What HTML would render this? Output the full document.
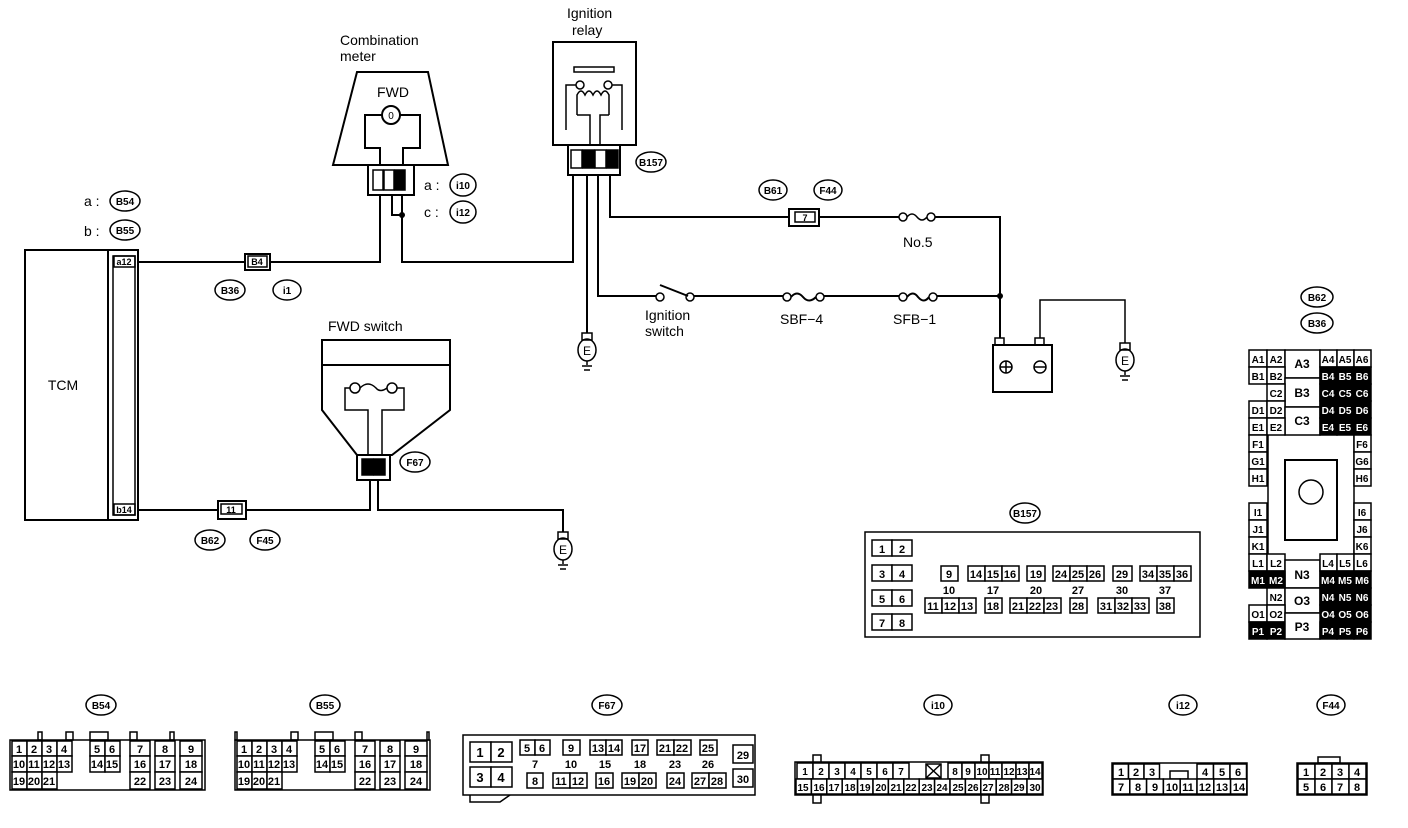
<!DOCTYPE html>
<html><head><meta charset="utf-8"><style>
html,body{margin:0;padding:0;background:#fff;}
svg{display:block;}
text{font-family:"Liberation Sans",sans-serif;fill:#000;}
.l{font-size:14px;}
.o{font-size:10px;font-weight:bold;}
.c{font-size:11px;font-weight:bold;}
.w{fill:none;stroke:#000;stroke-width:2;}
.t{fill:none;stroke:#000;stroke-width:1.5;}
.cell{fill:#fff;stroke:#000;stroke-width:1.5;}
.dk{fill:#000;stroke:#000;stroke-width:1.5;}
.wt{fill:#fff;}
</style></head><body>
<svg width="1408" height="828" viewBox="0 0 1408 828" xmlns="http://www.w3.org/2000/svg">
<defs>
<g id="gnd">
<rect x="-5" y="0" width="10" height="7" class="t"/>
<ellipse cx="0" cy="17" rx="9" ry="11" class="t"/>
<text x="0" y="22" text-anchor="middle" style="font-size:12px">E</text>
<line x1="0" y1="28" x2="0" y2="32" class="t"/>
<line x1="-5" y1="33" x2="5" y2="33" class="t"/>
<line x1="-3" y1="37" x2="3" y2="37" class="t"/>
</g>
</defs>

<!-- TCM -->
<rect x="25" y="250" width="83" height="270" class="w"/>
<rect x="108" y="250" width="30" height="270" class="w"/>
<rect x="113" y="256" width="22" height="259" class="t"/>
<rect x="114" y="256" width="21" height="11" class="t"/><text x="124" y="265" class="c" text-anchor="middle" style="font-size:9px">a12</text>
<rect x="114" y="504" width="21" height="11" class="t"/><text x="124" y="513" class="c" text-anchor="middle" style="font-size:9px">b14</text>
<text x="63" y="390" class="l" text-anchor="middle">TCM</text>
<text x="84" y="206" class="l">a :</text><ellipse cx="125" cy="201" rx="15" ry="10" class="t"/><text x="125" y="205" class="o" text-anchor="middle">B54</text>
<text x="84" y="236" class="l">b :</text><ellipse cx="125" cy="230" rx="15" ry="10" class="t"/><text x="125" y="234" class="o" text-anchor="middle">B55</text>

<!-- wire TCM a12 to meter -->
<polyline points="138,262 245,262" class="w"/>
<rect x="245" y="254" width="25" height="16" class="w"/><rect x="248" y="256" width="19" height="11" class="t"/><text x="257" y="265" class="c" text-anchor="middle" style="font-size:9px">B4</text>
<polyline points="270,262 380,262 380,195" class="w"/>
<ellipse cx="230" cy="290" rx="15" ry="10" class="t"/><text x="230" y="294" class="o" text-anchor="middle">B36</text>
<ellipse cx="287" cy="290" rx="14" ry="10" class="t"/><text x="287" y="294" class="o" text-anchor="middle">i1</text>

<!-- Combination meter -->
<text x="340" y="45" class="l">Combination</text>
<text x="340" y="61" class="l">meter</text>
<polygon points="357,72 428,72 448,165 333,165" class="w"/>
<text x="393" y="97" class="l" text-anchor="middle">FWD</text>
<circle cx="391" cy="115" r="9" class="w"/><text x="391" y="119" style="font-size:10px" text-anchor="middle">0</text>
<polyline points="382,115 365,115 365,148 380,148 380,165" class="w"/>
<polyline points="400,115 420,115 420,148 403,148 403,165" class="w"/>
<rect x="368" y="165" width="46" height="30" class="w"/>
<rect x="373" y="170" width="10" height="20" class="t"/><rect x="384" y="170" width="10" height="20" class="t"/><rect x="395" y="170" width="10" height="20" class="dk"/>
<polyline points="392,195 392,215 402,215" class="w"/>
<polyline points="402,195 402,262 573,262 573,175" class="w"/>
<circle cx="402" cy="215" r="3"/>
<text x="424" y="190" class="l">a :</text><ellipse cx="463" cy="185" rx="13" ry="11" class="t"/><text x="463" y="189" class="o" text-anchor="middle">i10</text>
<text x="424" y="217" class="l">c :</text><ellipse cx="463" cy="212" rx="13" ry="11" class="t"/><text x="463" y="216" class="o" text-anchor="middle">i12</text>

<!-- Ignition relay -->
<text x="567" y="18" class="l">Ignition</text>
<text x="572" y="35" class="l">relay</text>
<rect x="553" y="42" width="83" height="103" class="w"/>
<rect x="574" y="67" width="40" height="5" class="t"/>
<circle cx="580" cy="85" r="4" class="t"/><circle cx="608" cy="85" r="4" class="t"/>
<polyline points="576,85 566,85 566,130" class="t"/><polyline points="612,85 622,85 622,130" class="t"/>
<path d="M577,115 V95 q4,-8 8,0 q4,-8 8,0 q4,-8 8,0 q4,-8 8,0 V115" class="t"/>
<polyline points="577,115 590,115 590,145" class="t"/><polyline points="609,115 600,115 600,145" class="t"/>
<rect x="568" y="145" width="52" height="30" class="w"/>
<rect x="571" y="150" width="11" height="18" class="t"/><rect x="583" y="150" width="11" height="18" class="dk"/><rect x="595" y="150" width="11" height="18" class="t"/><rect x="607" y="150" width="11" height="18" class="dk"/>
<ellipse cx="651" cy="162" rx="15" ry="10" class="t"/><text x="651" y="166" class="o" text-anchor="middle">B157</text>

<line x1="587" y1="175" x2="587" y2="333" class="w"/>
<use href="#gnd" x="587" y="333"/>
<polyline points="598,175 598,296 656,296" class="w"/>
<polyline points="610,175 610,217 790,217" class="w"/>

<!-- B61/F44 conn -->
<ellipse cx="773" cy="190" rx="14" ry="10" class="t"/><text x="773" y="194" class="o" text-anchor="middle">B61</text>
<ellipse cx="828" cy="190" rx="14" ry="10" class="t"/><text x="828" y="194" class="o" text-anchor="middle">F44</text>
<rect x="789" y="209" width="30" height="17" class="w"/><rect x="795" y="212" width="20" height="10" class="t"/><text x="805" y="221" class="c" text-anchor="middle" style="font-size:9px">7</text>
<line x1="819" y1="217" x2="899" y2="217" class="w"/>
<circle cx="903" cy="217" r="4" class="t"/><circle cx="931" cy="217" r="4" class="t"/><path d="M907,217 q5,-6 10,0 q5,6 10,0" class="t"/>
<polyline points="935,217 1000,217 1000,338" class="w"/>
<text x="903" y="247" class="l">No.5</text>

<!-- ignition switch line -->
<circle cx="660" cy="297" r="4" class="t"/><circle cx="690" cy="297" r="4" class="t"/>
<line x1="660" y1="285" x2="688" y2="296" class="w"/>
<text x="645" y="320" class="l">Ignition</text><text x="645" y="336" class="l">switch</text>
<line x1="694" y1="296" x2="783" y2="296" class="w"/>
<circle cx="787" cy="297" r="4" class="t"/><circle cx="820" cy="297" r="4" class="t"/><path d="M791,297 q6,-7 12,0 q6,7 13,0" class="w"/>
<text x="780" y="324" class="l">SBF−4</text>
<line x1="824" y1="296" x2="899" y2="296" class="w"/>
<circle cx="903" cy="297" r="4" class="t"/><circle cx="933" cy="297" r="4" class="t"/><path d="M907,297 q6,-7 11,0 q6,7 11,0" class="w"/>
<text x="893" y="324" class="l">SFB−1</text>
<line x1="937" y1="296" x2="1000" y2="296" class="w"/>
<circle cx="1000" cy="296" r="3"/>

<!-- battery -->
<rect x="993" y="345" width="59" height="47" class="w"/>
<rect x="995" y="338" width="9" height="7" class="t"/><rect x="1035" y="338" width="9" height="7" class="t"/>
<circle cx="1006" cy="367" r="6" class="t"/><line x1="1000" y1="367" x2="1012" y2="367" class="t"/><line x1="1006" y1="361" x2="1006" y2="373" class="t"/>
<circle cx="1040" cy="367" r="6" class="t"/><line x1="1034" y1="367" x2="1046" y2="367" class="t"/>
<polyline points="1040,338 1040,300 1125,300 1125,343" class="t"/>
<use href="#gnd" x="1125" y="343"/>

<!-- FWD switch -->
<text x="328" y="331" class="l">FWD switch</text>
<rect x="322" y="340" width="128" height="25" class="w"/>
<polyline points="322,365 322,410 357,455 392,455 450,410 450,365" class="w"/>
<circle cx="355" cy="388" r="5" class="t"/><circle cx="392" cy="388" r="5" class="t"/><path d="M360,388 q8,-8 16,0 q4,5 11,0" class="t"/>
<polyline points="350,388 345,388 345,410 368,410 368,455" class="t"/>
<polyline points="397,388 404,388 404,410 382,410 382,455" class="t"/>
<rect x="357" y="455" width="33" height="25" class="w"/>
<rect x="362" y="459" width="11" height="16" class="dk"/><rect x="374" y="459" width="11" height="16" class="dk"/>
<ellipse cx="415" cy="462" rx="15" ry="10" class="t"/><text x="415" y="466" class="o" text-anchor="middle">F67</text>
<polyline points="370,480 370,510 246,510" class="w"/>
<polyline points="378,480 378,510 563,510 563,532" class="w"/>
<use href="#gnd" x="563" y="532"/>
<rect x="218" y="501" width="28" height="18" class="w"/><rect x="221" y="504" width="21" height="10" class="t"/><text x="231" y="513" class="c" text-anchor="middle" style="font-size:9px">11</text>
<line x1="138" y1="510" x2="218" y2="510" class="w"/>
<ellipse cx="210" cy="540" rx="15" ry="10" class="t"/><text x="210" y="544" class="o" text-anchor="middle">B62</text>
<ellipse cx="265" cy="540" rx="15" ry="10" class="t"/><text x="265" y="544" class="o" text-anchor="middle">F45</text>

<!-- B157 panel -->
<ellipse cx="1025" cy="513" rx="15" ry="10" class="t"/><text x="1025" y="517" class="o" text-anchor="middle">B157</text>
<rect x="865" y="532" width="335" height="105" class="t"/>
<g class="c" text-anchor="middle">
<rect x="872" y="540" width="20" height="16" class="cell"/><rect x="892" y="540" width="20" height="16" class="cell"/><text x="882" y="553">1</text><text x="902" y="553">2</text>
<rect x="872" y="565" width="20" height="16" class="cell"/><rect x="892" y="565" width="20" height="16" class="cell"/><text x="882" y="578">3</text><text x="902" y="578">4</text>
<rect x="872" y="590" width="20" height="16" class="cell"/><rect x="892" y="590" width="20" height="16" class="cell"/><text x="882" y="603">5</text><text x="902" y="603">6</text>
<rect x="872" y="614" width="20" height="16" class="cell"/><rect x="892" y="614" width="20" height="16" class="cell"/><text x="882" y="627">7</text><text x="902" y="627">8</text>
<rect x="941" y="566" width="17" height="15" class="cell"/><text x="949" y="578">9</text>
<text x="949" y="594">10</text>
<rect x="925" y="598" width="17" height="15" class="cell"/><rect x="942" y="598" width="17" height="15" class="cell"/><rect x="959" y="598" width="17" height="15" class="cell"/><text x="933" y="610">11</text><text x="950" y="610">12</text><text x="967" y="610">13</text>
<rect x="968" y="566" width="17" height="15" class="cell"/><rect x="985" y="566" width="17" height="15" class="cell"/><rect x="1002" y="566" width="17" height="15" class="cell"/><text x="976" y="578">14</text><text x="993" y="578">15</text><text x="1010" y="578">16</text>
<text x="993" y="594">17</text>
<rect x="985" y="598" width="17" height="15" class="cell"/><text x="993" y="610">18</text>
<rect x="1027" y="566" width="18" height="15" class="cell"/><text x="1036" y="578">19</text>
<text x="1036" y="594">20</text>
<rect x="1010" y="598" width="17" height="15" class="cell"/><rect x="1027" y="598" width="17" height="15" class="cell"/><rect x="1044" y="598" width="17" height="15" class="cell"/><text x="1018" y="610">21</text><text x="1035" y="610">22</text><text x="1052" y="610">23</text>
<rect x="1053" y="566" width="17" height="15" class="cell"/><rect x="1070" y="566" width="17" height="15" class="cell"/><rect x="1087" y="566" width="17" height="15" class="cell"/><text x="1061" y="578">24</text><text x="1078" y="578">25</text><text x="1095" y="578">26</text>
<text x="1078" y="594">27</text>
<rect x="1070" y="598" width="17" height="15" class="cell"/><text x="1078" y="610">28</text>
<rect x="1113" y="566" width="19" height="15" class="cell"/><text x="1122" y="578">29</text>
<text x="1122" y="594">30</text>
<rect x="1098" y="598" width="17" height="15" class="cell"/><rect x="1115" y="598" width="17" height="15" class="cell"/><rect x="1132" y="598" width="17" height="15" class="cell"/><text x="1106" y="610">31</text><text x="1123" y="610">32</text><text x="1140" y="610">33</text>
<rect x="1140" y="566" width="17" height="15" class="cell"/><rect x="1157" y="566" width="17" height="15" class="cell"/><rect x="1174" y="566" width="17" height="15" class="cell"/><text x="1148" y="578">34</text><text x="1165" y="578">35</text><text x="1182" y="578">36</text>
<text x="1165" y="594">37</text>
<rect x="1157" y="598" width="17" height="15" class="cell"/><text x="1165" y="610">38</text>
</g>

<!-- B62/B36 block -->
<ellipse cx="1317" cy="297" rx="16" ry="10" class="t"/><text x="1317" y="301" class="o" text-anchor="middle">B62</text>
<ellipse cx="1317" cy="323" rx="16" ry="10" class="t"/><text x="1317" y="327" class="o" text-anchor="middle">B36</text>
<rect x="1285" y="460" width="52" height="80" class="w"/>
<circle cx="1311" cy="492" r="12" class="t"/>
<polyline points="1268,435 1268,554" class="t"/><polyline points="1354,435 1354,554" class="t"/>
<g class="c" text-anchor="middle" style="font-size:10px">
<rect x="1249" y="350" width="18" height="17" class="cell"/><text x="1258" y="363">A1</text>
<rect x="1267" y="350" width="18" height="17" class="cell"/><text x="1276" y="363">A2</text>
<rect x="1285" y="350" width="35" height="28" class="cell"/><text x="1302" y="368" style="font-size:12px">A3</text>
<rect x="1320" y="350" width="17" height="17" class="cell"/><text x="1328" y="363">A4</text>
<rect x="1337" y="350" width="17" height="17" class="cell"/><text x="1345" y="363">A5</text>
<rect x="1354" y="350" width="17" height="17" class="cell"/><text x="1362" y="363">A6</text>
<rect x="1249" y="367" width="18" height="17" class="cell"/><text x="1258" y="380">B1</text>
<rect x="1267" y="367" width="18" height="17" class="cell"/><text x="1276" y="380">B2</text>
<rect x="1285" y="378" width="35" height="29" class="cell"/><text x="1302" y="397" style="font-size:12px">B3</text>
<rect x="1320" y="367" width="17" height="17" class="dk"/><text x="1328" y="380" class="wt">B4</text>
<rect x="1337" y="367" width="17" height="17" class="dk"/><text x="1345" y="380" class="wt">B5</text>
<rect x="1354" y="367" width="17" height="17" class="dk"/><text x="1362" y="380" class="wt">B6</text>
<rect x="1267" y="384" width="18" height="17" class="cell"/><text x="1276" y="397">C2</text>
<rect x="1320" y="384" width="17" height="17" class="dk"/><text x="1328" y="397" class="wt">C4</text>
<rect x="1337" y="384" width="17" height="17" class="dk"/><text x="1345" y="397" class="wt">C5</text>
<rect x="1354" y="384" width="17" height="17" class="dk"/><text x="1362" y="397" class="wt">C6</text>
<rect x="1249" y="401" width="18" height="17" class="cell"/><text x="1258" y="414">D1</text>
<rect x="1267" y="401" width="18" height="17" class="cell"/><text x="1276" y="414">D2</text>
<rect x="1285" y="407" width="35" height="28" class="cell"/><text x="1302" y="425" style="font-size:12px">C3</text>
<rect x="1320" y="401" width="17" height="17" class="dk"/><text x="1328" y="414" class="wt">D4</text>
<rect x="1337" y="401" width="17" height="17" class="dk"/><text x="1345" y="414" class="wt">D5</text>
<rect x="1354" y="401" width="17" height="17" class="dk"/><text x="1362" y="414" class="wt">D6</text>
<rect x="1249" y="418" width="18" height="17" class="cell"/><text x="1258" y="431">E1</text>
<rect x="1267" y="418" width="18" height="17" class="cell"/><text x="1276" y="431">E2</text>
<rect x="1320" y="418" width="17" height="17" class="dk"/><text x="1328" y="431" class="wt">E4</text>
<rect x="1337" y="418" width="17" height="17" class="dk"/><text x="1345" y="431" class="wt">E5</text>
<rect x="1354" y="418" width="17" height="17" class="dk"/><text x="1362" y="431" class="wt">E6</text>
<rect x="1249" y="435" width="18" height="17" class="cell"/><text x="1258" y="448">F1</text>
<rect x="1354" y="435" width="17" height="17" class="cell"/><text x="1362" y="448">F6</text>
<rect x="1249" y="452" width="18" height="17" class="cell"/><text x="1258" y="465">G1</text>
<rect x="1354" y="452" width="17" height="17" class="cell"/><text x="1362" y="465">G6</text>
<rect x="1249" y="469" width="18" height="17" class="cell"/><text x="1258" y="482">H1</text>
<rect x="1354" y="469" width="17" height="17" class="cell"/><text x="1362" y="482">H6</text>
<rect x="1249" y="503" width="18" height="17" class="cell"/><text x="1258" y="516">I1</text>
<rect x="1354" y="503" width="17" height="17" class="cell"/><text x="1362" y="516">I6</text>
<rect x="1249" y="520" width="18" height="17" class="cell"/><text x="1258" y="533">J1</text>
<rect x="1354" y="520" width="17" height="17" class="cell"/><text x="1362" y="533">J6</text>
<rect x="1249" y="537" width="18" height="17" class="cell"/><text x="1258" y="550">K1</text>
<rect x="1354" y="537" width="17" height="17" class="cell"/><text x="1362" y="550">K6</text>
<rect x="1249" y="554" width="18" height="17" class="cell"/><text x="1258" y="567">L1</text>
<rect x="1267" y="554" width="18" height="17" class="cell"/><text x="1276" y="567">L2</text>
<rect x="1285" y="560" width="35" height="28" class="cell"/><text x="1302" y="579" style="font-size:12px">N3</text>
<rect x="1320" y="554" width="17" height="17" class="cell"/><text x="1328" y="567">L4</text>
<rect x="1337" y="554" width="17" height="17" class="cell"/><text x="1345" y="567">L5</text>
<rect x="1354" y="554" width="17" height="17" class="cell"/><text x="1362" y="567">L6</text>
<rect x="1249" y="571" width="18" height="17" class="dk"/><text x="1258" y="584" class="wt">M1</text>
<rect x="1267" y="571" width="18" height="17" class="dk"/><text x="1276" y="584" class="wt">M2</text>
<rect x="1320" y="571" width="17" height="17" class="dk"/><text x="1328" y="584" class="wt">M4</text>
<rect x="1337" y="571" width="17" height="17" class="dk"/><text x="1345" y="584" class="wt">M5</text>
<rect x="1354" y="571" width="17" height="17" class="dk"/><text x="1362" y="584" class="wt">M6</text>
<rect x="1267" y="588" width="18" height="17" class="cell"/><text x="1276" y="601">N2</text>
<rect x="1285" y="588" width="35" height="25" class="cell"/><text x="1302" y="605" style="font-size:12px">O3</text>
<rect x="1320" y="588" width="17" height="17" class="dk"/><text x="1328" y="601" class="wt">N4</text>
<rect x="1337" y="588" width="17" height="17" class="dk"/><text x="1345" y="601" class="wt">N5</text>
<rect x="1354" y="588" width="17" height="17" class="dk"/><text x="1362" y="601" class="wt">N6</text>
<rect x="1249" y="605" width="18" height="17" class="cell"/><text x="1258" y="618">O1</text>
<rect x="1267" y="605" width="18" height="17" class="cell"/><text x="1276" y="618">O2</text>
<rect x="1320" y="605" width="17" height="17" class="dk"/><text x="1328" y="618" class="wt">O4</text>
<rect x="1337" y="605" width="17" height="17" class="dk"/><text x="1345" y="618" class="wt">O5</text>
<rect x="1354" y="605" width="17" height="17" class="dk"/><text x="1362" y="618" class="wt">O6</text>
<rect x="1249" y="622" width="18" height="17" class="dk"/><text x="1258" y="635" class="wt">P1</text>
<rect x="1267" y="622" width="18" height="17" class="dk"/><text x="1276" y="635" class="wt">P2</text>
<rect x="1285" y="613" width="35" height="26" class="cell"/><text x="1302" y="631" style="font-size:12px">P3</text>
<rect x="1320" y="622" width="17" height="17" class="dk"/><text x="1328" y="635" class="wt">P4</text>
<rect x="1337" y="622" width="17" height="17" class="dk"/><text x="1345" y="635" class="wt">P5</text>
<rect x="1354" y="622" width="17" height="17" class="dk"/><text x="1362" y="635" class="wt">P6</text>
</g>

<!-- bottom connectors labels -->
<ellipse cx="101" cy="705" rx="15" ry="10" class="t"/><text x="101" y="709" class="o" text-anchor="middle">B54</text>
<ellipse cx="325" cy="705" rx="15" ry="10" class="t"/><text x="325" y="709" class="o" text-anchor="middle">B55</text>
<ellipse cx="607" cy="705" rx="15" ry="10" class="t"/><text x="607" y="709" class="o" text-anchor="middle">F67</text>
<ellipse cx="938" cy="705" rx="14" ry="10" class="t"/><text x="938" y="709" class="o" text-anchor="middle">i10</text>
<ellipse cx="1183" cy="705" rx="14" ry="10" class="t"/><text x="1183" y="709" class="o" text-anchor="middle">i12</text>
<ellipse cx="1331" cy="705" rx="14" ry="10" class="t"/><text x="1331" y="709" class="o" text-anchor="middle">F44</text>

<!-- B54 -->
<g class="c" text-anchor="middle">
<rect x="10" y="740" width="195" height="50" class="t"/>
<rect x="38" y="732" width="4" height="8" class="t"/><rect x="66" y="732" width="7" height="8" class="t"/><rect x="90" y="732" width="18" height="8" class="t"/><rect x="130" y="732" width="7" height="8" class="t"/><rect x="170" y="732" width="4" height="8" class="t"/>
<rect x="12" y="741" width="15" height="15" class="cell"/><text x="19" y="753">1</text>
<rect x="27" y="741" width="15" height="15" class="cell"/><text x="34" y="753">2</text>
<rect x="42" y="741" width="15" height="15" class="cell"/><text x="49" y="753">3</text>
<rect x="57" y="741" width="15" height="15" class="cell"/><text x="64" y="753">4</text>
<rect x="90" y="741" width="15" height="15" class="cell"/><text x="97" y="753">5</text>
<rect x="105" y="741" width="15" height="15" class="cell"/><text x="112" y="753">6</text>
<rect x="130" y="741" width="20" height="15" class="cell"/><text x="140" y="753">7</text>
<rect x="155" y="741" width="20" height="15" class="cell"/><text x="165" y="753">8</text>
<rect x="180" y="741" width="22" height="15" class="cell"/><text x="191" y="753">9</text>
<rect x="12" y="756" width="15" height="16" class="cell"/><text x="19" y="768">10</text>
<rect x="27" y="756" width="15" height="16" class="cell"/><text x="34" y="768">11</text>
<rect x="42" y="756" width="15" height="16" class="cell"/><text x="49" y="768">12</text>
<rect x="57" y="756" width="15" height="16" class="cell"/><text x="64" y="768">13</text>
<rect x="90" y="756" width="15" height="16" class="cell"/><text x="97" y="768">14</text>
<rect x="105" y="756" width="15" height="16" class="cell"/><text x="112" y="768">15</text>
<rect x="130" y="756" width="20" height="16" class="cell"/><text x="140" y="768">16</text>
<rect x="155" y="756" width="20" height="16" class="cell"/><text x="165" y="768">17</text>
<rect x="180" y="756" width="22" height="16" class="cell"/><text x="191" y="768">18</text>
<rect x="12" y="772" width="15" height="17" class="cell"/><text x="19" y="785">19</text>
<rect x="27" y="772" width="15" height="17" class="cell"/><text x="34" y="785">20</text>
<rect x="42" y="772" width="15" height="17" class="cell"/><text x="49" y="785">21</text>
<rect x="130" y="772" width="20" height="17" class="cell"/><text x="140" y="785">22</text>
<rect x="155" y="772" width="20" height="17" class="cell"/><text x="165" y="785">23</text>
<rect x="180" y="772" width="22" height="17" class="cell"/><text x="191" y="785">24</text>
</g>
<!-- B55 -->
<g class="c" text-anchor="middle" transform="translate(225,0)">
<rect x="10" y="740" width="195" height="50" class="t"/>
<rect x="10" y="732" width="2" height="8" class="t"/><rect x="66" y="732" width="7" height="8" class="t"/><rect x="90" y="732" width="18" height="8" class="t"/><rect x="130" y="732" width="7" height="8" class="t"/><rect x="202" y="732" width="2" height="8" class="t"/>
<rect x="12" y="741" width="15" height="15" class="cell"/><text x="19" y="753">1</text>
<rect x="27" y="741" width="15" height="15" class="cell"/><text x="34" y="753">2</text>
<rect x="42" y="741" width="15" height="15" class="cell"/><text x="49" y="753">3</text>
<rect x="57" y="741" width="15" height="15" class="cell"/><text x="64" y="753">4</text>
<rect x="90" y="741" width="15" height="15" class="cell"/><text x="97" y="753">5</text>
<rect x="105" y="741" width="15" height="15" class="cell"/><text x="112" y="753">6</text>
<rect x="130" y="741" width="20" height="15" class="cell"/><text x="140" y="753">7</text>
<rect x="155" y="741" width="20" height="15" class="cell"/><text x="165" y="753">8</text>
<rect x="180" y="741" width="22" height="15" class="cell"/><text x="191" y="753">9</text>
<rect x="12" y="756" width="15" height="16" class="cell"/><text x="19" y="768">10</text>
<rect x="27" y="756" width="15" height="16" class="cell"/><text x="34" y="768">11</text>
<rect x="42" y="756" width="15" height="16" class="cell"/><text x="49" y="768">12</text>
<rect x="57" y="756" width="15" height="16" class="cell"/><text x="64" y="768">13</text>
<rect x="90" y="756" width="15" height="16" class="cell"/><text x="97" y="768">14</text>
<rect x="105" y="756" width="15" height="16" class="cell"/><text x="112" y="768">15</text>
<rect x="130" y="756" width="20" height="16" class="cell"/><text x="140" y="768">16</text>
<rect x="155" y="756" width="20" height="16" class="cell"/><text x="165" y="768">17</text>
<rect x="180" y="756" width="22" height="16" class="cell"/><text x="191" y="768">18</text>
<rect x="12" y="772" width="15" height="17" class="cell"/><text x="19" y="785">19</text>
<rect x="27" y="772" width="15" height="17" class="cell"/><text x="34" y="785">20</text>
<rect x="42" y="772" width="15" height="17" class="cell"/><text x="49" y="785">21</text>
<rect x="130" y="772" width="20" height="17" class="cell"/><text x="140" y="785">22</text>
<rect x="155" y="772" width="20" height="17" class="cell"/><text x="165" y="785">23</text>
<rect x="180" y="772" width="22" height="17" class="cell"/><text x="191" y="785">24</text>
</g>

<!-- F67 -->
<g class="c" text-anchor="middle">
<rect x="463" y="735" width="292" height="60" class="t"/>
<polyline points="470,795 470,802 500,802 510,795" class="t"/>
<rect x="470" y="742" width="21" height="20" class="cell"/><rect x="491" y="742" width="21" height="20" class="cell"/><text x="480" y="757" style="font-size:13px">1</text><text x="501" y="757" style="font-size:13px">2</text>
<rect x="470" y="767" width="21" height="20" class="cell"/><rect x="491" y="767" width="21" height="20" class="cell"/><text x="480" y="782" style="font-size:13px">3</text><text x="501" y="782" style="font-size:13px">4</text>
<rect x="520" y="740" width="15" height="15" class="cell"/><rect x="535" y="740" width="15" height="15" class="cell"/><text x="527" y="752">5</text><text x="542" y="752">6</text>
<text x="535" y="768">7</text>
<rect x="527" y="773" width="16" height="15" class="cell"/><text x="535" y="785">8</text>
<rect x="563" y="740" width="17" height="15" class="cell"/><text x="571" y="752">9</text>
<text x="571" y="768">10</text>
<rect x="553" y="773" width="17" height="15" class="cell"/><rect x="570" y="773" width="17" height="15" class="cell"/><text x="561" y="785">11</text><text x="578" y="785">12</text>
<rect x="590" y="740" width="16" height="15" class="cell"/><rect x="606" y="740" width="16" height="15" class="cell"/><text x="598" y="752">13</text><text x="614" y="752">14</text>
<text x="605" y="768">15</text>
<rect x="596" y="773" width="17" height="15" class="cell"/><text x="604" y="785">16</text>
<rect x="632" y="740" width="16" height="15" class="cell"/><text x="640" y="752">17</text>
<text x="640" y="768">18</text>
<rect x="622" y="773" width="17" height="15" class="cell"/><rect x="639" y="773" width="17" height="15" class="cell"/><text x="630" y="785">19</text><text x="647" y="785">20</text>
<rect x="657" y="740" width="17" height="15" class="cell"/><rect x="674" y="740" width="17" height="15" class="cell"/><text x="665" y="752">21</text><text x="682" y="752">22</text>
<text x="675" y="768">23</text>
<rect x="667" y="773" width="17" height="15" class="cell"/><text x="675" y="785">24</text>
<rect x="700" y="740" width="17" height="15" class="cell"/><text x="708" y="752">25</text>
<text x="708" y="768">26</text>
<rect x="692" y="773" width="17" height="15" class="cell"/><rect x="709" y="773" width="17" height="15" class="cell"/><text x="700" y="785">27</text><text x="717" y="785">28</text>
<rect x="733" y="745" width="20" height="18" class="cell"/><text x="743" y="759">29</text>
<rect x="733" y="769" width="20" height="18" class="cell"/><text x="743" y="783">30</text>
</g>

<!-- i10 -->
<g class="c" text-anchor="middle" style="font-size:10px">
<rect x="795" y="762" width="248" height="33" class="t"/>
<rect x="813" y="755" width="8" height="48" class="t"/><rect x="981" y="755" width="8" height="48" class="t"/>
<rect x="797" y="763" width="16" height="16" class="cell"/><text x="805" y="775">1</text>
<rect x="813" y="763" width="16" height="16" class="cell"/><text x="821" y="775">2</text>
<rect x="829" y="763" width="16" height="16" class="cell"/><text x="837" y="775">3</text>
<rect x="845" y="763" width="16" height="16" class="cell"/><text x="853" y="775">4</text>
<rect x="861" y="763" width="16" height="16" class="cell"/><text x="869" y="775">5</text>
<rect x="877" y="763" width="16" height="16" class="cell"/><text x="885" y="775">6</text>
<rect x="893" y="763" width="16" height="16" class="cell"/><text x="901" y="775">7</text>
<rect x="926" y="764" width="15" height="14" class="cell"/><line x1="926" y1="764" x2="941" y2="778" class="t"/><line x1="941" y1="764" x2="926" y2="778" class="t"/>
<rect x="948" y="763" width="14" height="16" class="cell"/><text x="955" y="775">8</text>
<rect x="962" y="763" width="13" height="16" class="cell"/><text x="968" y="775">9</text>
<rect x="975" y="763" width="14" height="16" class="cell"/><text x="982" y="775">10</text>
<rect x="989" y="763" width="13" height="16" class="cell"/><text x="995" y="775">11</text>
<rect x="1002" y="763" width="14" height="16" class="cell"/><text x="1009" y="775">12</text>
<rect x="1016" y="763" width="13" height="16" class="cell"/><text x="1022" y="775">13</text>
<rect x="1029" y="763" width="13" height="16" class="cell"/><text x="1035" y="775">14</text>
<rect x="796" y="779" width="15.4" height="15" class="cell"/><text x="803" y="791">15</text>
<rect x="811.4" y="779" width="15.4" height="15" class="cell"/><text x="819" y="791">16</text>
<rect x="826.8" y="779" width="15.4" height="15" class="cell"/><text x="834" y="791">17</text>
<rect x="842.2" y="779" width="15.4" height="15" class="cell"/><text x="850" y="791">18</text>
<rect x="857.6" y="779" width="15.4" height="15" class="cell"/><text x="865" y="791">19</text>
<rect x="873" y="779" width="15.4" height="15" class="cell"/><text x="881" y="791">20</text>
<rect x="888.4" y="779" width="15.4" height="15" class="cell"/><text x="896" y="791">21</text>
<rect x="903.8" y="779" width="15.4" height="15" class="cell"/><text x="911" y="791">22</text>
<rect x="919.2" y="779" width="15.4" height="15" class="cell"/><text x="927" y="791">23</text>
<rect x="934.6" y="779" width="15.4" height="15" class="cell"/><text x="942" y="791">24</text>
<rect x="950" y="779" width="15.4" height="15" class="cell"/><text x="958" y="791">25</text>
<rect x="965.4" y="779" width="15.4" height="15" class="cell"/><text x="973" y="791">26</text>
<rect x="980.8" y="779" width="15.4" height="15" class="cell"/><text x="988" y="791">27</text>
<rect x="996.2" y="779" width="15.4" height="15" class="cell"/><text x="1004" y="791">28</text>
<rect x="1011.6" y="779" width="15.4" height="15" class="cell"/><text x="1019" y="791">29</text>
<rect x="1027" y="779" width="15.4" height="15" class="cell"/><text x="1035" y="791">30</text>
</g>

<!-- i12 -->
<g class="c" text-anchor="middle">
<rect x="1112" y="763" width="135" height="32" class="t"/>
<rect x="1113" y="764" width="15.5" height="15" class="cell"/><text x="1121" y="776">1</text>
<rect x="1128.5" y="764" width="15.5" height="15" class="cell"/><text x="1136" y="776">2</text>
<rect x="1144" y="764" width="15.5" height="15" class="cell"/><text x="1152" y="776">3</text>
<rect x="1170" y="771" width="18" height="8" class="t"/>
<rect x="1197" y="764" width="16.5" height="15" class="cell"/><text x="1205" y="776">4</text>
<rect x="1213.5" y="764" width="16.5" height="15" class="cell"/><text x="1222" y="776">5</text>
<rect x="1230" y="764" width="16.5" height="15" class="cell"/><text x="1238" y="776">6</text>
<rect x="1113" y="779" width="16.8" height="15" class="cell"/><text x="1121" y="791">7</text>
<rect x="1129.8" y="779" width="16.8" height="15" class="cell"/><text x="1138" y="791">8</text>
<rect x="1146.6" y="779" width="16.8" height="15" class="cell"/><text x="1155" y="791">9</text>
<rect x="1163.4" y="779" width="16.8" height="15" class="cell"/><text x="1172" y="791">10</text>
<rect x="1180.2" y="779" width="16.8" height="15" class="cell"/><text x="1188" y="791">11</text>
<rect x="1197" y="779" width="16.8" height="15" class="cell"/><text x="1205" y="791">12</text>
<rect x="1213.8" y="779" width="16.8" height="15" class="cell"/><text x="1222" y="791">13</text>
<rect x="1230.6" y="779" width="16.2" height="15" class="cell"/><text x="1239" y="791">14</text>
</g>

<!-- F44 -->
<g class="c" text-anchor="middle">
<rect x="1297" y="763" width="70" height="32" class="t"/>
<rect x="1318" y="757" width="22" height="6" class="t"/>
<rect x="1298" y="764" width="17" height="15" class="cell"/><text x="1306" y="776">1</text>
<rect x="1315" y="764" width="17" height="15" class="cell"/><text x="1323" y="776">2</text>
<rect x="1332" y="764" width="17" height="15" class="cell"/><text x="1340" y="776">3</text>
<rect x="1349" y="764" width="17" height="15" class="cell"/><text x="1357" y="776">4</text>
<rect x="1298" y="779" width="17" height="15" class="cell"/><text x="1306" y="791">5</text>
<rect x="1315" y="779" width="17" height="15" class="cell"/><text x="1323" y="791">6</text>
<rect x="1332" y="779" width="17" height="15" class="cell"/><text x="1340" y="791">7</text>
<rect x="1349" y="779" width="17" height="15" class="cell"/><text x="1357" y="791">8</text>
</g>
</svg>
</body></html>
